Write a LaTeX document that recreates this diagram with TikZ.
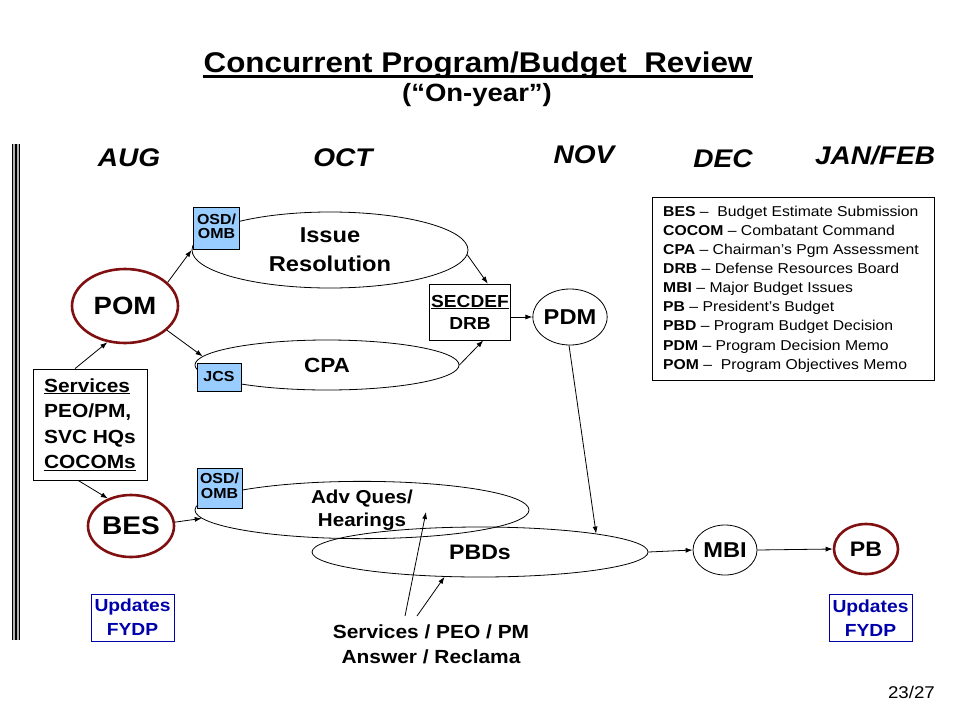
\documentclass[tikz,border=0pt]{standalone}
\usepackage{fontspec}
\setmainfont{Liberation Sans}[FakeStretch=1.1]
\usetikzlibrary{shapes.geometric,arrows.meta,calc}
\definecolor{dred}{RGB}{128,16,16}
\definecolor{lblue}{RGB}{153,204,255}
\definecolor{fblue}{RGB}{0,0,170}
\newcommand{\fsz}[2]{\fontsize{#1}{#2}\selectfont}
\newcommand{\twoline}[2]{\begin{tabular}{@{}c@{}}#1\\#2\end{tabular}}
\begin{document}
\begin{tikzpicture}[x=1pt,y=-1pt,
  every node/.style={inner sep=0pt},
  arr/.style={-{Latex[length=7pt,width=5pt]}, line width=0.8pt},
  oval/.style={ellipse, draw, line width=0.8pt},
  redoval/.style={ellipse, draw=dred, line width=2.6pt},
  bluebox/.style={rectangle, draw, fill=lblue, line width=0.8pt, align=center, font=\bfseries\fsz{14.5}{14.5}},
  fydp/.style={rectangle, draw=fblue, text=fblue, line width=1pt, align=center, minimum width=83, minimum height=47, font=\bfseries\fsz{17.5}{24}},
  month/.style={anchor=base, font=\bfseries\itshape\fsz{25.5}{30}},
]
\useasboundingbox (0,0) rectangle (960,720);
\fill[white] (0,0) rectangle (960,720);

% left bar
\fill[gray!60] (12,144) rectangle (20,640);
\foreach \x in {12.6,16,19.4} \draw[line width=1.2pt] (\x,144) -- (\x,640);

% title
\node[anchor=base, font=\bfseries\fsz{28.5}{32}] (title) at (478,72) {Concurrent Program/Budget\ \ Review};
\draw[line width=2.4pt] ([yshift=-4.5pt]title.base west) -- ([yshift=-4.5pt]title.base east);
\node[anchor=base, font=\bfseries\fsz{25}{28}] (onyear) at (477,101) {(“On-year”)};

% months
\node[month] (aug) at (129,166) {AUG};
\node[month] (oct) at (343,166) {OCT};
\node[month] (nov) at (584,163) {NOV};
\node[month] (dec) at (723,167) {DEC};
\node[month] (jan) at (875,164) {JAN/FEB};

% ellipses
\node[oval, minimum width=276, minimum height=76, align=center, font=\bfseries\fsz{21.5}{29}] (iss) at (330,250) {Issue\\Resolution};
\node[oval, minimum width=264, minimum height=50, font=\bfseries\fsz{20.5}{24}] (cpa) at (327,365) {CPA};
\node[oval, minimum width=334, minimum height=56, align=center, font=\bfseries\fsz{18.7}{23}] (adv) at (362,510) {Adv Ques/\\Hearings};
\node[oval, minimum width=336, minimum height=50, font=\bfseries\fsz{21}{24}] (pbd) at (480,552) {PBDs};
\node[oval, minimum width=72, minimum height=56, font=\bfseries\fsz{21.5}{24}] (pdm) at (570,317) {PDM};
\node[oval, minimum width=64, minimum height=50, font=\bfseries\fsz{21.5}{24}] (mbi) at (725,550) {MBI};
\node[redoval, minimum width=64, minimum height=50, font=\bfseries\fsz{21}{24}] (pb) at (866,549) {PB};
\node[redoval, minimum width=106, minimum height=74, font=\bfseries\fsz{25}{26}] (pom) at (125,306) {POM};
\node[redoval, minimum width=86, minimum height=62, font=\bfseries\fsz{25.5}{26}] (bes) at (131,526) {BES};

% blue boxes
\node[bluebox, minimum width=46, minimum height=42] (osd1) at (216.5,228.5) {\twoline{OSD/}{OMB}};
\node[bluebox, minimum width=44, minimum height=28] (jcs) at (219,377) {JCS};
\node[bluebox, minimum width=45, minimum height=40] (osd2) at (219.5,488) {\twoline{OSD/}{OMB}};

% SECDEF/DRB
\node[rectangle, draw, fill=white, line width=0.8pt, minimum width=81, minimum height=56, align=center, font=\bfseries\fsz{17.4}{22}] (sec) at (470,312) {\underline{SECDEF}\\DRB};

% Services box
\node[rectangle, draw, line width=0.8pt, minimum width=114, minimum height=111, align=left, font=\bfseries\fsz{19}{25.5}] (svc) at (90,424.5) {\underline{Services}\\PEO/PM,\\SVC HQs\\\underline{COCOMs}};

% FYDP boxes
\node[fydp] (fy1) at (132.5,617.5) {Updates\\FYDP};
\node[fydp] (fy2) at (870.5,618) {Updates\\FYDP};

% bottom text
\node[anchor=base, align=center, font=\bfseries\fsz{19}{25}] (ans) at (431,663) {Services / PEO / PM\\Answer / Reclama};
\coordinate (a1) at (405,616);
\coordinate (a2) at (417,616);
\coordinate (advtip) at (426,512);

% legend
\node[rectangle, draw, line width=0.8pt, minimum width=282, minimum height=183] (leg) at (793,288.5) {};
\node[anchor=north west, align=left, font=\fsz{14.3}{19.15}] (legt) at (663,205.5) {%
\textbf{BES} –\ \ Budget Estimate Submission\\
\textbf{COCOM} – Combatant Command\\
\textbf{CPA} – Chairman’s Pgm Assessment\\
\textbf{DRB} – Defense Resources Board\\
\textbf{MBI} – Major Budget Issues\\
\textbf{PB} – President’s Budget\\
\textbf{PBD} – Program Budget Decision\\
\textbf{PDM} – Program Decision Memo\\
\textbf{POM} –\ \ Program Objectives Memo};

% page number
\node[anchor=base east, font=\fsz{17}{20}] (pg) at (935,698) {23/27};

% arrows
\draw[arr] (svc.105) -- (pom.-116);
\draw[arr] (svc.-102) -- (bes.130);
\draw[arr] (pom.29) -- (iss.west);
\draw[arr] (pom.-30) -- (cpa.176);
\draw[arr] (bes.5) -- (adv.183);
\draw[arr] (iss.-2) -- (sec.58);
\draw[arr] (cpa.east) -- (sec.-65);
\draw[arr] (sec.east |- pdm.west) -- (pdm.west);
\draw[arr] (pdm.-92) -- (pbd.9);
\draw[arr] (pbd.east) -- (mbi.west);
\draw[arr] (mbi.east) -- (pb.west);
\draw[arr] (a1) -- (advtip);
\draw[arr] (a2) -- (pbd.215);
\end{tikzpicture}
\end{document}
